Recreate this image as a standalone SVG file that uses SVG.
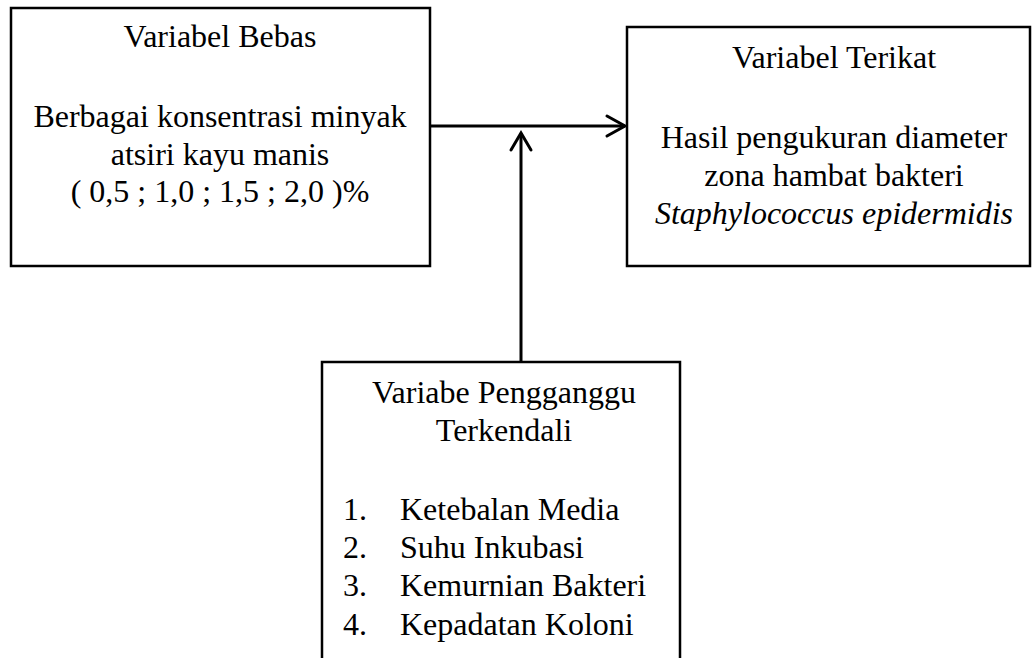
<svg xmlns="http://www.w3.org/2000/svg" width="1033" height="658" viewBox="0 0 1033 658">
<style>
.box{fill:none;stroke:#000;stroke-width:2.5}
.t{font-family:"Liberation Serif","Times New Roman",serif;font-size:32px;fill:#000}
.c{text-anchor:middle}
.conn{fill:none;stroke:#000;stroke-width:3}
.head{fill:none;stroke:#000;stroke-width:3;stroke-linecap:round;stroke-linejoin:miter}
</style>
<rect width="1033" height="658" fill="#fff"/>
<g id="bebas">
<rect class="box" x="11" y="8" width="419" height="258"/>
<text class="t c" x="220" y="47">Variabel Bebas</text>
<text class="t c" x="220" y="127">Berbagai konsentrasi minyak</text>
<text class="t c" x="220" y="165">atsiri kayu manis</text>
<text class="t c" x="220" y="202">( 0,5 ; 1,0 ; 1,5 ; 2,0 )%</text>
</g>
<g id="terikat">
<rect class="box" x="627" y="27" width="403" height="239"/>
<text class="t c" x="834" y="68">Variabel Terikat</text>
<text class="t c" x="834" y="148">Hasil pengukuran diameter</text>
<text class="t c" x="834" y="186">zona hambat bakteri</text>
<text class="t c" x="834" y="224" font-style="italic">Staphylococcus epidermidis</text>
</g>
<g id="pengganggu">
<path class="box" d="M322,680 V362 H680 V680"/>
<text class="t c" x="504" y="403">Variabe Pengganggu</text>
<text class="t c" x="504" y="441">Terkendali</text>
<text class="t" x="343" y="520">1.</text><text class="t" x="400" y="520">Ketebalan Media</text>
<text class="t" x="343" y="558">2.</text><text class="t" x="400" y="558">Suhu Inkubasi</text>
<text class="t" x="343" y="596">3.</text><text class="t" x="400" y="596">Kemurnian Bakteri</text>
<text class="t" x="343" y="635">4.</text><text class="t" x="400" y="635">Kepadatan Koloni</text>
</g>
<g id="connectors">
<line class="conn" x1="430" y1="126" x2="625" y2="126"/>
<polyline class="head" points="607,116 625,126 607,136"/>
<line class="conn" x1="521" y1="362" x2="521" y2="133"/>
<polyline class="head" points="511,150 521,133 531,150"/>
</g>
</svg>
